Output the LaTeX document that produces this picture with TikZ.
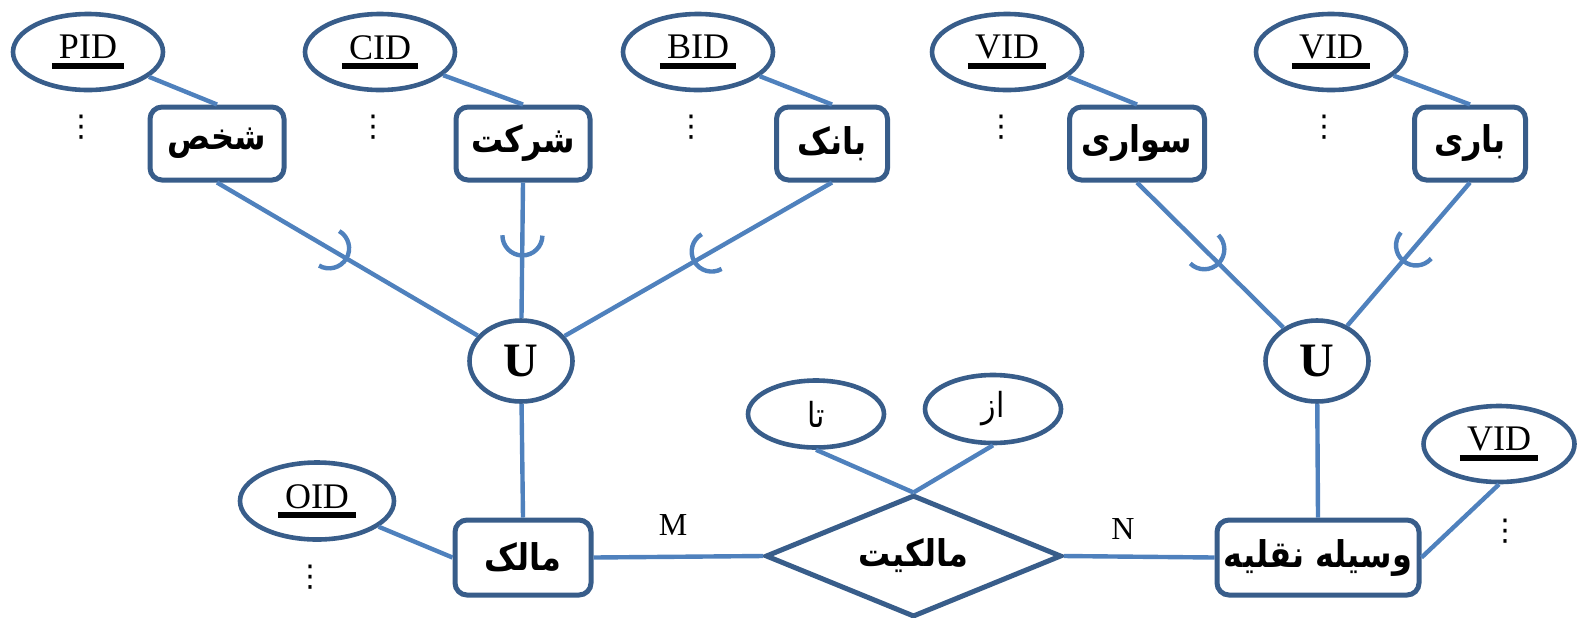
\documentclass[tikz,border=0pt]{standalone}
\usepackage{fontspec}
\usepackage{graphicx}
\setmainfont{Liberation Serif}
\newfontfamily\arfont[Script=Arabic]{DejaVu Sans}
\newfontfamily\dotfont{DejaVu Sans}
\TeXXeTstate=1
\usetikzlibrary{shapes.geometric}
\definecolor{outl}{HTML}{385D8A}
\definecolor{conn}{HTML}{4F81BD}
\newcommand\keyul[1]{\setbox0=\hbox{#1}\rlap{\hspace{-0.2em}\rule[-0.27em]{\dimexpr\wd0+0.4em\relax}{0.15em}}\box0}
\newcommand\artx[1]{\scalebox{1}[1.15]{\beginR #1\endR}}
\tikzset{
  ent/.style={draw=outl, line width=2.5pt, rounded corners=6pt, fill=white, minimum height=36.5pt, inner sep=0pt, font=\arfont\bfseries\fontsize{16}{19}\selectfont},
  attr/.style={draw=outl, line width=2.3pt, ellipse, fill=white, inner sep=0pt, minimum width=75pt, minimum height=38pt, font=\fontsize{18}{21}\selectfont},
  uni/.style={draw=outl, line width=2.3pt, ellipse, fill=white, inner sep=0pt, minimum width=51.5pt, minimum height=40.5pt, font=\bfseries\fontsize{24}{28}\selectfont},
  rel/.style={draw=outl, line width=2.5pt, diamond, aspect=2.43, fill=white, inner sep=0pt, minimum width=148pt, minimum height=61pt, font=\arfont\bfseries\fontsize{16}{19}\selectfont},
  conline/.style={draw=conn, line width=2.2pt},
  vdot/.style={inner sep=0pt, font=\dotfont\fontsize{15}{17}\selectfont},
  card/.style={inner sep=0pt, font=\fontsize{16}{19}\selectfont},
  subarc/.pic={\draw[draw=conn, line width=2.2pt] (0,10pt) arc[start angle=90, end angle=-90, radius=10pt];}
}
\begin{document}
\begin{tikzpicture}[x=0.5pt, y=-0.5pt]
\useasboundingbox (0,0) rectangle (1578,617);
% attributes top
\node[attr] (pid) at (88,52) {\keyul{PID}};
\node[attr] (cid) at (380,52) {\keyul{CID}};
\node[attr] (bid) at (698,52) {\keyul{BID}};
\node[attr] (vid1) at (1007,52) {\keyul{VID}};
\node[attr] (vid2) at (1331,52) {\keyul{VID}};
% entities top
\node[ent, minimum width=67pt] (shakhs) at (217,143.5) {\artx{شخص}};
\node[ent, minimum width=67pt] (sherkat) at (523,143.5) {\artx{شرکت}};
\node[ent, minimum width=55.5pt] (bank) at (832,143.5) {\artx{بانک}};
\node[ent, minimum width=67.5pt] (savari) at (1137,143.5) {\artx{سواری}};
\node[ent, minimum width=55.5pt] (bari) at (1470,143.5) {\artx{باری}};
% dots
\node[vdot] (d1) at (81,127) {⋮};
\node[vdot] (d2) at (373,127) {⋮};
\node[vdot] (d3) at (691,127) {⋮};
\node[vdot] (d4) at (1001,127) {⋮};
\node[vdot] (d5) at (1324,127) {⋮};
\node[vdot] (d6) at (310,577) {⋮};
\node[vdot] (d7) at (1505,531) {⋮};
% unions
\node[uni] (u1) at (521,361) {U};
\node[uni] (u2) at (1317,361) {U};
% bottom
\node[ent, minimum width=68pt, minimum height=37.5pt] (malek) at (523,557.5) {\artx{مالک}};
\node[ent, minimum width=101pt, minimum height=37.5pt] (vasile) at (1318,557.5) {\artx{وسیله نقلیه}};
\node[rel] (malekiyat) at (913.5,556) {\artx{مالکیت}};
\node[attr, minimum width=68pt, minimum height=33.5pt, font=\arfont\fontsize{15}{18}\selectfont] (ta) at (816,414) {\artx{تا}};
\node[attr, minimum width=68pt, minimum height=34pt, font=\arfont\fontsize{15}{18}\selectfont] (az) at (993,409) {\artx{از}};
\node[attr, minimum width=77pt, minimum height=38.5pt] (oid) at (317,501) {\keyul{OID}};
\node[attr, minimum width=75.5pt, minimum height=38pt] (vid3) at (1499,444) {\keyul{VID}};
\node[card] (m) at (673,525) {M};
\node[card] (n) at (1123,529) {N};
% connectors
\draw[conline] (pid) -- (shakhs.north);
\draw[conline] (cid) -- (sherkat.north);
\draw[conline] (bid) -- (bank.north);
\draw[conline] (vid1) -- (savari.north);
\draw[conline] (vid2) -- (bari.north);
\draw[conline] (shakhs.south) -- (u1) pic[pos=0.43, sloped, allow upside down]{subarc};
\draw[conline] (sherkat.south) -- (u1) pic[pos=0.39, sloped, allow upside down]{subarc};
\draw[conline] (bank.south) -- (u1) pic[pos=0.45, sloped, allow upside down]{subarc};
\draw[conline] (savari.south) -- (u2) pic[pos=0.46, sloped, allow upside down]{subarc};
\draw[conline] (bari.south) -- (u2) pic[pos=0.44, sloped, allow upside down]{subarc};
\draw[conline] (u1) -- (malek.north);
\draw[conline] (u2) -- (vasile.north);
\draw[conline] (oid) -- (malek.west);
\draw[conline] (malek.east) -- (malekiyat.west);
\draw[conline] (malekiyat.east) -- (vasile.west);
\draw[conline] (vid3.south) -- (vasile.east);
\draw[conline] (ta.south) -- (malekiyat.north);
\draw[conline] (az.south) -- (malekiyat.north);
\end{tikzpicture}
\end{document}
